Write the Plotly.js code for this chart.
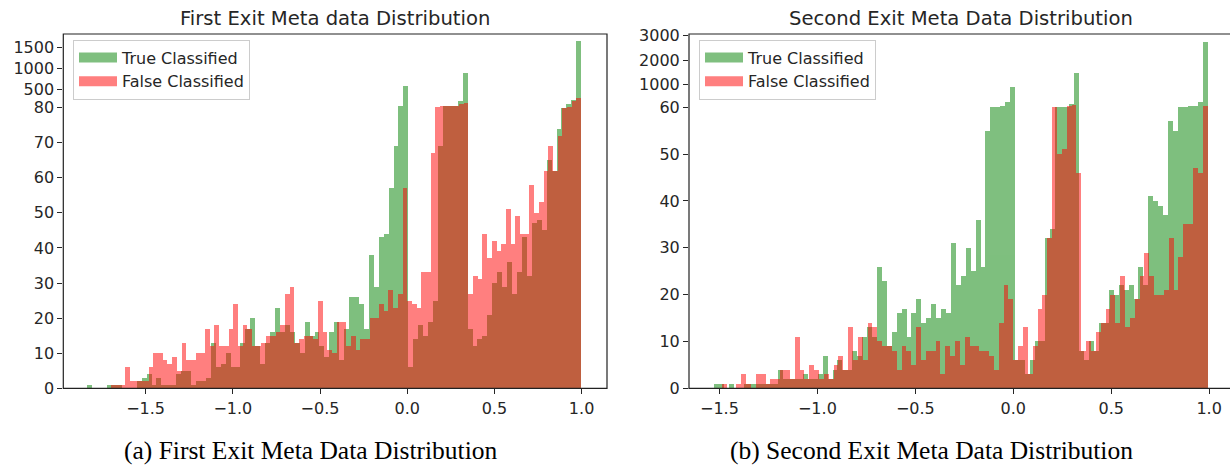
<!DOCTYPE html>
<html>
<head>
<meta charset="utf-8">
<script src="https://cdn.plot.ly/plotly-3.0.1.min.js"></script>
<style>
html,body{margin:0;padding:0;overflow:hidden;background:#fff;}
#chart{width:1232px;height:466px;}
</style>
</head>
<body>
<div id="chart"></div>
<script>
// ---------- data (histogram counts, 100 bins per series) ----------
const leftTrueCounts = [
1,0,0,0,1,1,1,0,0,0,
2,3,4,1,3,1,1,1,4,5,
5,1,2,2,3,13,6,7,10,6,
6,13,17,20,12,7,13,16,23,16,
18,16,13,10,19,15,16,12,9,16,
19,8,17,26,26,24,17,38,29,43,
44,57,69,120,586,6,14,18,15,19,
25,69,115,118,120,240,900,17,12,14,
15,21,30,33,29,36,27,33,43,32,
47,48,45,65,62,74,80,162,256,1650];
const leftFalseCounts = [
1,1,1,6,2,2,2,2,6,10,
10,8,7,9,5,13,8,8,10,10,
17,12,18,12,12,17,24,12,18,17,
12,12,13,15,15,16,18,27,29,13,
14,15,15,14,25,16,11,10,19,19,
12,15,11,14,14,20,20,24,22,28,
23,27,57,25,24,23,33,33,67,85,
110,115,115,125,160,180,27,32,31,44,
37,42,39,41,51,41,49,44,44,58,
50,53,62,69,62,72,80,82,240,296];
const rightTrueCounts = [
1,1,0,1,0,0,1,1,1,1,
1,1,1,4,2,2,2,2,3,2,
2,3,7,2,4,6,4,4,8,7,
11,13,11,26,23,9,12,16,17,11,
16,19,14,15,18,15,17,16,31,22,
24,30,25,36,26,55,60,61,130,290,
883,6,6,3,6,10,10,32,34,60,
60,60,196,1483,8,6,10,8,14,14,
21,20,22,21,22,19,26,22,41,40,
39,37,57,55,60,60,113,113,290,2760];
const rightFalseCounts = [
1,0,0,1,3,1,0,3,3,1,
2,2,4,4,2,11,4,2,5,4,
2,3,2,5,7,4,13,6,11,6,
14,13,10,9,9,8,4,9,8,5,
13,6,8,8,10,3,9,7,10,5,
11,9,9,8,8,7,4,14,22,19,
6,9,13,3,9,17,20,32,60,50,
51,113,150,46,8,10,8,12,14,17,
20,14,24,13,15,19,24,29,24,20,
20,21,32,21,28,35,35,47,46,113];

// bin edges (first edge, last edge) of each histogram
const leftTrueEdges   = [-1.8343, 0.9977];
const leftFalseEdges  = [-1.6984, 0.9977];
const rightTrueEdges  = [-1.5274, 0.9918];
const rightFalseEdges = [-1.4880, 0.9918];

// axis tick labels
const leftYTicks  = [0,10,20,30,40,50,60,70,80,500,1000,1500];
const rightYTicks = [0,10,20,30,40,50,60,1000,2000,3000];
const xTickVals   = [-1.5,-1.0,-0.5,0.0,0.5,1.0];
const xTickText   = ['\u22121.5','\u22121.0','\u22120.5','0.0','0.5','1.0'];

const seriesNames = ['True Classified','False Classified'];
const titles = ['First Exit Meta data Distribution','Second Exit Meta Data Distribution'];
const captions = ['(a) First Exit Meta Data Distribution','(b) Second Exit Meta Data Distribution'];

// ---------- broken (compressed) y scale ----------
const leftBreak = 80,  leftK  = 0.0425/3.51;
const rightBreak = 60, rightK = 0.0243/4.683;
function squash(v, brk, k){ return v <= brk ? v : brk + (v - brk)*k; }

function histTrace(counts, edges, brk, k, color, name, xa, ya){
  const n = counts.length;
  const w = (edges[1]-edges[0])/n;
  return {
    type:'bar', x0: edges[0] + w/2, dx: w, width: w,
    y: counts.map(c => squash(c, brk, k)),
    customdata: counts, hovertemplate: '%{customdata}<extra></extra>',
    marker:{color: color, line:{width:0}}, opacity:0.5,
    name: name, xaxis: xa, yaxis: ya, showlegend: false
  };
}
// legend handles (wide patches like matplotlib)
function legendHandle(color, name, xa, ya, leg){
  return {type:'scatter', mode:'lines', x:[null], y:[null], xaxis:xa, yaxis:ya,
    line:{color:color, width:11}, opacity:0.5, name:name, legend:leg, showlegend:true,
    hoverinfo:'skip'};
}

const GREEN = '#008000', RED = '#ff0000';
const traces = [
  histTrace(leftTrueCounts,  leftTrueEdges,  leftBreak,  leftK,  GREEN, seriesNames[0], 'x',  'y'),
  histTrace(leftFalseCounts, leftFalseEdges, leftBreak,  leftK,  RED,   seriesNames[1], 'x',  'y'),
  histTrace(rightTrueCounts, rightTrueEdges, rightBreak, rightK, GREEN, seriesNames[0], 'x2', 'y2'),
  histTrace(rightFalseCounts,rightFalseEdges,rightBreak, rightK, RED,   seriesNames[1], 'x2', 'y2'),
  legendHandle(GREEN, seriesNames[0], 'x',  'y',  'legend'),
  legendHandle(RED,   seriesNames[1], 'x',  'y',  'legend'),
  legendHandle(GREEN, seriesNames[0], 'x2', 'y2', 'legend2'),
  legendHandle(RED,   seriesNames[1], 'x2', 'y2', 'legend2')
];

const W = 1232, H = 466;
const px = v => v / W;
const py = v => (H - v) / H;
const TXT = '#262626';
const tickFont = {family:'DejaVu Sans', size:16, color:TXT};

function xAxis(dom, range, anchor){
  return {domain: dom, range: range, anchor: anchor,
    tickvals: xTickVals, ticktext: xTickText, ticks:'outside', ticklen:5, tickwidth:1, tickcolor:TXT,
    showline:false, showgrid:false, zeroline:false, tickfont: tickFont, fixedrange:true};
}
function yAxis(ticks, brk, k, range, anchor){
  return {domain:[py(388.3), py(34)], range: range, anchor: anchor,
    tickvals: ticks.map(t => squash(t, brk, k)), ticktext: ticks.map(String),
    ticks:'outside', ticklen:5, tickwidth:1, tickcolor:TXT,
    showline:false, showgrid:false, zeroline:false, tickfont: tickFont, fixedrange:true};
}
function frame(xa, ya){
  return {type:'rect', xref: xa + ' domain', yref: ya + ' domain', x0:0, x1:1, y0:0, y1:1,
    line:{color:'#222', width:1.2}, fillcolor:'rgba(0,0,0,0)', layer:'above'};
}

const legendBase = {xanchor:'left', yanchor:'top', bgcolor:'rgba(255,255,255,0.8)',
  bordercolor:'#cccccc', borderwidth:1, font:{family:'DejaVu Sans', size:16, color:TXT},
  tracegroupgap:0, traceorder:'normal', itemwidth:38};

const layout = {
  width: W, height: H, margin:{l:0,r:0,t:0,b:0},
  paper_bgcolor:'#fff', plot_bgcolor:'#fff',
  barmode:'overlay', bargap:0, showlegend:true,
  xaxis:  xAxis([px(63.3), px(607)], [-1.972, 1.1457], 'y'),
  yaxis:  yAxis(leftYTicks, leftBreak, leftK, [0, 100.94], 'x'),
  xaxis2: xAxis([px(689), 1], [-1.6554, 1.1168], 'y2'),
  yaxis2: yAxis(rightYTicks, rightBreak, rightK, [0, 75.66], 'x2'),
  legend:  Object.assign({x: px(73),  y: py(39.5)}, legendBase),
  legend2: Object.assign({x: px(699), y: py(39.5)}, legendBase),
  shapes: [frame('x','y'), frame('x2','y2')],
  annotations: [
    {text: titles[0], x: px(335.2), y: py(18), xref:'paper', yref:'paper', showarrow:false,
     xanchor:'center', yanchor:'middle', font:{family:'DejaVu Sans', size:19.6, color:TXT}},
    {text: titles[1], x: px(960.5), y: py(18), xref:'paper', yref:'paper', showarrow:false,
     xanchor:'center', yanchor:'middle', font:{family:'DejaVu Sans', size:19.6, color:TXT}},
    {text: captions[0], x: px(310), y: py(450), xref:'paper', yref:'paper', showarrow:false,
     xanchor:'center', yanchor:'middle', font:{family:'Liberation Serif', size:25.5, color:'#000'}},
    {text: captions[1], x: px(931.5), y: py(450), xref:'paper', yref:'paper', showarrow:false,
     xanchor:'center', yanchor:'middle', font:{family:'Liberation Serif', size:25.5, color:'#000'}}
  ]
};

Plotly.newPlot('chart', traces, layout, {displayModeBar:false, staticPlot:true});
</script>
</body>
</html>
